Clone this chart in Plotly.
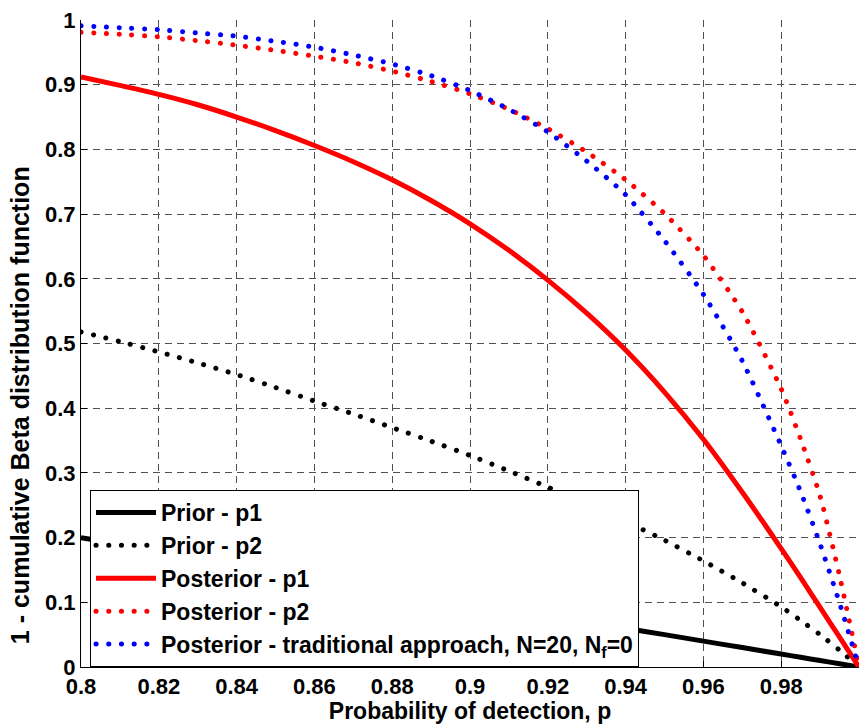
import plotly.graph_objects as go

# Probability of detection grid (0.01 steps, with extra points near 1 for the steep curves)
p = [0.80, 0.81, 0.82, 0.83, 0.84, 0.85, 0.86, 0.87, 0.88, 0.89, 0.90,
     0.91, 0.92, 0.93, 0.94, 0.95, 0.96, 0.97, 0.98, 0.985, 0.99, 0.995, 1.00]

# 1 - cumulative Beta distribution function for each case
prior_p1 = [0.200, 0.190, 0.180, 0.170, 0.160, 0.150, 0.140, 0.130, 0.120, 0.110, 0.100,
            0.090, 0.080, 0.070, 0.060, 0.050, 0.040, 0.030, 0.020, 0.015, 0.010, 0.005, 0.000]
prior_p2 = [0.518, 0.503, 0.487, 0.470, 0.452, 0.432, 0.411, 0.391, 0.370, 0.349, 0.327,
            0.303, 0.278, 0.252, 0.225, 0.196, 0.164, 0.130, 0.093, 0.072, 0.050, 0.026, 0.000]
posterior_p1 = [0.912, 0.899, 0.885, 0.869, 0.850, 0.829, 0.806, 0.781, 0.753, 0.721, 0.685,
                0.644, 0.598, 0.547, 0.490, 0.425, 0.352, 0.270, 0.183, 0.138, 0.092, 0.046, 0.000]
posterior_p2 = [0.981, 0.978, 0.974, 0.968, 0.961, 0.953, 0.944, 0.934, 0.921, 0.905, 0.886,
                0.862, 0.832, 0.796, 0.753, 0.701, 0.636, 0.549, 0.430, 0.352, 0.264, 0.141, 0.000]
posterior_trad = [0.991, 0.988, 0.985, 0.980, 0.975, 0.967, 0.958, 0.946, 0.932, 0.914, 0.891,
                  0.862, 0.827, 0.782, 0.730, 0.659, 0.576, 0.473, 0.342, 0.271, 0.190, 0.099, 0.000]

x_ticks = [0.80, 0.82, 0.84, 0.86, 0.88, 0.90, 0.92, 0.94, 0.96, 0.98, 1.00]
x_tick_labels = ["0.8", "0.82", "0.84", "0.86", "0.88", "0.9", "0.92", "0.94", "0.96", "0.98", "1"]
y_ticks = [0.0, 0.1, 0.2, 0.3, 0.4, 0.5, 0.6, 0.7, 0.8, 0.9, 1.0]
y_tick_labels = ["0", "0.1", "0.2", "0.3", "0.4", "0.5", "0.6", "0.7", "0.8", "0.9", "1"]

FONT = "Arial, Liberation Sans, sans-serif"
DOTS = "0.1px,12.6px"   # short dashes that become round dots with round caps
LW = 5

series = [
    ("Prior - p1", prior_p1, "black", "solid"),
    ("Prior - p2", prior_p2, "black", DOTS),
    ("Posterior - p1", posterior_p1, "red", "solid"),
    ("Posterior - p2", posterior_p2, "red", DOTS),
    ("Posterior - traditional approach, N=20, N<sub>f</sub>=0", posterior_trad, "blue", DOTS),
]

fig = go.Figure()
for name, vals, color, dash in series:
    fig.add_trace(go.Scatter(
        x=p, y=vals, mode="lines", name=name,
        line=dict(color=color, width=LW, dash=dash, shape="spline", smoothing=0.6),
    ))

axis_common = dict(
    showgrid=True, gridcolor="rgb(80,80,80)", gridwidth=1, griddash="7px,5px",
    showline=True, linecolor="black", linewidth=1,
    ticks="inside", ticklen=6, tickcolor="black", tickwidth=1,
    zeroline=False, mirror=False,
    tickfont=dict(family=FONT, size=22, color="black"),
)

fig.update_xaxes(
    range=[0.8, 1.0], tickvals=x_ticks,
    ticktext=["<b>%s</b>" % t for t in x_tick_labels],
    title=dict(text="<b>Probability of detection, p</b>", standoff=2,
               font=dict(family=FONT, size=23, color="black")),
    **axis_common,
)
fig.update_yaxes(
    range=[0.0, 1.0], tickvals=y_ticks,
    ticktext=["<b>%s</b>" % t for t in y_tick_labels],
    **axis_common,
)

# y-axis label, drawn as a rotated annotation so it can sit slightly below centre
fig.add_annotation(
    text="<b>1 - cumulative Beta distribution function</b>",
    xref="paper", yref="paper", x=-0.079, y=0.404,
    xanchor="center", yanchor="middle", textangle=-90, showarrow=False,
    font=dict(family=FONT, size=25, color="black"),
)

fig.update_layout(
    width=864, height=724,
    margin=dict(l=81, r=5, t=20, b=57),
    paper_bgcolor="white", plot_bgcolor="white",
    font=dict(family=FONT, size=22, color="black"),
    showlegend=True,
    legend=dict(
        x=0.0116, y=0.2736, xanchor="left", yanchor="top",
        bgcolor="white", bordercolor="black", borderwidth=1,
        font=dict(family=FONT, size=23, color="black", weight="bold"),
        itemwidth=60, tracegroupgap=0,
    ),
)

round_caps = """
var gd = document.getElementById('{plot_id}');
function roundDots() {
  gd.querySelectorAll('path.js-line').forEach(function (el) {
    var d = el.style.strokeDasharray;
    if (d && d !== 'none') { el.style.strokeLinecap = 'round'; }
  });
}
roundDots();
gd.on('plotly_afterplot', roundDots);
"""

fig.write_html("out.html", post_script=round_caps)
